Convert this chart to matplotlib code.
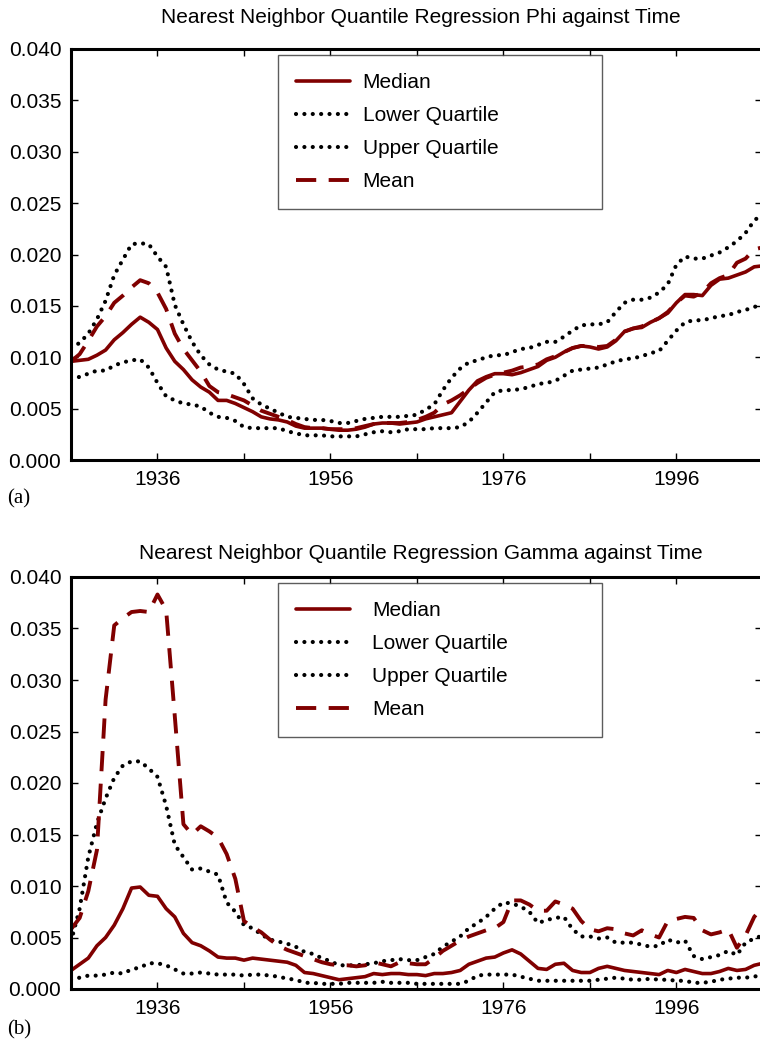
import numpy as np
import matplotlib
matplotlib.use("Agg")
import matplotlib.pyplot as plt
from matplotlib.ticker import FormatStrFormatter

plt.rcParams['font.family'] = ['Liberation Sans', 'DejaVu Sans']

years = np.arange(1926, 2007)

# panel (a): phi
phi_median = [
    0.0096, 0.0097, 0.0098, 0.0102, 0.0107, 0.0117, 0.0124, 0.0132, 0.0139, 0.0134,
    0.0127, 0.0109, 0.0096, 0.0088, 0.0078, 0.0071, 0.0066, 0.0058, 0.0058, 0.0055,
    0.0051, 0.0047, 0.0042, 0.0040, 0.0039, 0.0037, 0.0033, 0.0031, 0.0031, 0.0031,
    0.0030, 0.0029, 0.0029, 0.0030, 0.0032, 0.0035, 0.0036, 0.0036, 0.0035, 0.0036,
    0.0037, 0.0040, 0.0042, 0.0044, 0.0046, 0.0057, 0.0068, 0.0077, 0.0081, 0.0084,
    0.0084, 0.0083, 0.0085, 0.0088, 0.0091, 0.0097, 0.0100, 0.0105, 0.0109, 0.0111,
    0.0110, 0.0108, 0.0110, 0.0116, 0.0125, 0.0128, 0.0129, 0.0134, 0.0138, 0.0143,
    0.0153, 0.0161, 0.0161, 0.0160, 0.0170, 0.0176, 0.0177, 0.0180, 0.0183, 0.0188, 0.0189,
]
phi_lower = [
    0.0078, 0.0081, 0.0084, 0.0087, 0.0087, 0.0092, 0.0095, 0.0097, 0.0098, 0.0090,
    0.0075, 0.0062, 0.0058, 0.0055, 0.0054, 0.0052, 0.0046, 0.0042, 0.0041, 0.0038,
    0.0032, 0.0031, 0.0031, 0.0031, 0.0031, 0.0028, 0.0026, 0.0024, 0.0024, 0.0024,
    0.0023, 0.0023, 0.0023, 0.0023, 0.0025, 0.0027, 0.0028, 0.0027, 0.0028, 0.0030,
    0.0030, 0.0030, 0.0031, 0.0031, 0.0031, 0.0032, 0.0037, 0.0046, 0.0056, 0.0066,
    0.0068, 0.0068, 0.0069, 0.0071, 0.0074, 0.0075, 0.0077, 0.0082, 0.0087, 0.0088,
    0.0089, 0.0090, 0.0093, 0.0096, 0.0098, 0.0099, 0.0101, 0.0104, 0.0106, 0.0116,
    0.0126, 0.0134, 0.0136, 0.0136, 0.0138, 0.0140, 0.0141, 0.0144, 0.0146, 0.0149, 0.0151,
]
phi_upper = [
    0.0109, 0.0114, 0.0123, 0.0137, 0.0155, 0.0180, 0.0195, 0.0210, 0.0211, 0.0210,
    0.0198, 0.0188, 0.0151, 0.0132, 0.0115, 0.0102, 0.0093, 0.0088, 0.0086, 0.0084,
    0.0074, 0.0060, 0.0054, 0.0050, 0.0046, 0.0042, 0.0041, 0.0040, 0.0039, 0.0039,
    0.0038, 0.0036, 0.0036, 0.0038, 0.0040, 0.0041, 0.0042, 0.0042, 0.0042, 0.0043,
    0.0044, 0.0049, 0.0054, 0.0068, 0.0080, 0.0089, 0.0095, 0.0097, 0.0100, 0.0102,
    0.0102, 0.0105, 0.0108, 0.0109, 0.0112, 0.0115, 0.0115, 0.0120, 0.0126, 0.0131,
    0.0132, 0.0132, 0.0134, 0.0144, 0.0153, 0.0156, 0.0156, 0.0158, 0.0163, 0.0171,
    0.0190, 0.0198, 0.0196, 0.0196, 0.0199, 0.0202, 0.0207, 0.0213, 0.0221, 0.0233, 0.0240,
]
phi_mean = [
    0.0096, 0.0103, 0.0116, 0.0130, 0.0140, 0.0153, 0.0160, 0.0168, 0.0175, 0.0172,
    0.0163, 0.0147, 0.0123, 0.0108, 0.0097, 0.0086, 0.0072, 0.0066, 0.0064, 0.0061,
    0.0058, 0.0053, 0.0048, 0.0045, 0.0042, 0.0039, 0.0035, 0.0032, 0.0031, 0.0031,
    0.0030, 0.0030, 0.0030, 0.0031, 0.0033, 0.0035, 0.0036, 0.0036, 0.0036, 0.0037,
    0.0039, 0.0042, 0.0046, 0.0054, 0.0058, 0.0063, 0.0069, 0.0075, 0.0080, 0.0083,
    0.0085, 0.0087, 0.0090, 0.0091, 0.0093, 0.0098, 0.0101, 0.0105, 0.0109, 0.0111,
    0.0111, 0.0110, 0.0111, 0.0117, 0.0125, 0.0128, 0.0130, 0.0134, 0.0138, 0.0144,
    0.0153, 0.0160, 0.0159, 0.0163, 0.0172, 0.0177, 0.0180, 0.0192, 0.0196, 0.0205, 0.0207,
]

# panel (b): gamma
gamma_median = [
    0.0018, 0.0024, 0.0030, 0.0042, 0.0050, 0.0062, 0.0078, 0.0098, 0.0099, 0.0091,
    0.0090, 0.0078, 0.0070, 0.0054, 0.0045, 0.0042, 0.0037, 0.0031, 0.0030, 0.0030,
    0.0028, 0.0030, 0.0029, 0.0028, 0.0027, 0.0026, 0.0023, 0.0016, 0.0015, 0.0013,
    0.0011, 0.0009, 0.0010, 0.0011, 0.0012, 0.0015, 0.0014, 0.0015, 0.0015, 0.0014,
    0.0014, 0.0013, 0.0015, 0.0015, 0.0016, 0.0018, 0.0024, 0.0027, 0.0030, 0.0031,
    0.0035, 0.0038, 0.0034, 0.0027, 0.0020, 0.0019, 0.0024, 0.0025, 0.0018, 0.0016,
    0.0016, 0.0020, 0.0022, 0.0020, 0.0018, 0.0017, 0.0016, 0.0015, 0.0014, 0.0018,
    0.0016, 0.0019, 0.0017, 0.0015, 0.0015, 0.0017, 0.0020, 0.0018, 0.0019, 0.0023, 0.0025,
]
gamma_lower = [
    0.0009, 0.0011, 0.0013, 0.0013, 0.0014, 0.0016, 0.0015, 0.0019, 0.0021, 0.0025,
    0.0025, 0.0023, 0.0019, 0.0015, 0.0015, 0.0016, 0.0015, 0.0014, 0.0014, 0.0014,
    0.0013, 0.0014, 0.0014, 0.0013, 0.0012, 0.0010, 0.0009, 0.0006, 0.0006, 0.0005,
    0.0005, 0.0005, 0.0006, 0.0006, 0.0006, 0.0006, 0.0007, 0.0006, 0.0006, 0.0006,
    0.0005, 0.0005, 0.0005, 0.0005, 0.0005, 0.0005, 0.0008, 0.0013, 0.0014, 0.0014,
    0.0014, 0.0014, 0.0012, 0.0010, 0.0008, 0.0008, 0.0008, 0.0008, 0.0008, 0.0008,
    0.0008, 0.0009, 0.0010, 0.0011, 0.0010, 0.0009, 0.0009, 0.0010, 0.0009, 0.0009,
    0.0008, 0.0008, 0.0006, 0.0006, 0.0007, 0.0009, 0.0010, 0.0011, 0.0011, 0.0012, 0.0014,
]
gamma_upper = [
    0.0046, 0.0078, 0.0128, 0.0161, 0.0185, 0.0205, 0.0217, 0.0221, 0.0221, 0.0214,
    0.0206, 0.0178, 0.0140, 0.0128, 0.0116, 0.0117, 0.0114, 0.0111, 0.0084, 0.0075,
    0.0062, 0.0059, 0.0053, 0.0048, 0.0046, 0.0044, 0.0041, 0.0036, 0.0034, 0.0030,
    0.0027, 0.0023, 0.0023, 0.0023, 0.0024, 0.0025, 0.0027, 0.0028, 0.0029, 0.0028,
    0.0028, 0.0031, 0.0034, 0.0041, 0.0046, 0.0051, 0.0059, 0.0064, 0.0070, 0.0078,
    0.0084, 0.0083, 0.0080, 0.0075, 0.0064, 0.0067, 0.0069, 0.0070, 0.0058, 0.0051,
    0.0051, 0.0049, 0.0050, 0.0045, 0.0045, 0.0045, 0.0043, 0.0041, 0.0042, 0.0048,
    0.0045, 0.0047, 0.0032, 0.0029, 0.0031, 0.0033, 0.0037, 0.0033, 0.0045, 0.0049, 0.0052,
]
gamma_mean = [
    0.0058, 0.0069, 0.0095, 0.0135, 0.0281, 0.0353, 0.0360, 0.0366, 0.0367, 0.0366,
    0.0383, 0.0368, 0.0265, 0.0160, 0.0150, 0.0158, 0.0153, 0.0147, 0.0131, 0.0107,
    0.0066, 0.0060, 0.0055, 0.0048, 0.0042, 0.0038, 0.0035, 0.0032, 0.0029, 0.0026,
    0.0024, 0.0023, 0.0023, 0.0022, 0.0023, 0.0026, 0.0024, 0.0022, 0.0026, 0.0025,
    0.0024, 0.0024, 0.0030, 0.0037, 0.0042, 0.0047, 0.0051, 0.0054, 0.0057, 0.0059,
    0.0065, 0.0086, 0.0086, 0.0082, 0.0076, 0.0076, 0.0085, 0.0082, 0.0078, 0.0066,
    0.0058, 0.0056, 0.0059, 0.0058, 0.0054, 0.0052, 0.0057, 0.0053, 0.0050, 0.0066,
    0.0068, 0.0070, 0.0069, 0.0057, 0.0053, 0.0055, 0.0058, 0.0040, 0.0052, 0.0070, 0.0080,
]

titles = ["Nearest Neighbor Quantile Regression Phi against Time",
          "Nearest Neighbor Quantile Regression Gamma against Time"]
panel_tags = ["(a)", "(b)"]
labels = ["Median", "Lower Quartile", "Upper Quartile", "Mean"]
xticks = [1936, 1946, 1956, 1966, 1976, 1986, 1996]
xticklabels = ["1936", "", "1956", "", "1976", "", "1996"]
yticks = [0.0, 0.005, 0.010, 0.015, 0.020, 0.025, 0.030, 0.035, 0.040]

red = "#800000"
black = "#000000"


def draw_panel(ax, median, lower, upper, mean, textpad):
    ax.plot(years, median, color=red, lw=2.6, solid_capstyle="round", label=labels[0])
    ax.plot(years, lower, color=black, lw=3.0, linestyle=(0, (0.01, 2.0)),
            dash_capstyle="round", label=labels[1])
    ax.plot(years, upper, color=black, lw=3.0, linestyle=(0, (0.01, 2.0)),
            dash_capstyle="round", label=labels[2])
    ax.plot(years, mean, color=red, lw=2.8, linestyle=(0, (5.2, 3.2)), label=labels[3])

    ax.set_xlim(1926, 2005.9)
    ax.set_ylim(0, 0.040)
    ax.set_xticks(xticks)
    ax.set_xticklabels(xticklabels)
    ax.set_yticks(yticks)
    ax.yaxis.set_major_formatter(FormatStrFormatter("%.3f"))
    ax.tick_params(direction="in", length=5, width=1.0, top=True, right=True,
                   labelsize=15, pad=7)
    for sp in ax.spines.values():
        sp.set_linewidth(2.2)

    leg = ax.legend(loc="upper left", bbox_to_anchor=(0.300, 0.608, 0.468, 0.377),
                    mode="expand", borderaxespad=0, fontsize=15, frameon=True,
                    fancybox=False, handlelength=2.6, handletextpad=textpad,
                    labelspacing=0.68, borderpad=0.85)
    leg.get_frame().set_edgecolor("#333333")
    leg.get_frame().set_linewidth(1.0)


fig = plt.figure(figsize=(7.6, 10.43), dpi=100)
W, H = 760.0, 1043.0

ax1 = fig.add_axes([71 / W, 1 - 460 / H, 691 / W, 411 / H])
draw_panel(ax1, phi_median, phi_lower, phi_upper, phi_mean, 0.6)
ax2 = fig.add_axes([71 / W, 1 - 989 / H, 691 / W, 412 / H])
draw_panel(ax2, gamma_median, gamma_lower, gamma_upper, gamma_mean, 1.05)

fig.text(421 / W, 1 - 23 / H, titles[0], ha="center", va="baseline", fontsize=15)
fig.text(421 / W, 1 - 559 / H, titles[1], ha="center", va="baseline", fontsize=15)
fig.text(7 / W, 1 - 503 / H, panel_tags[0], ha="left", va="baseline", fontsize=15,
         family=["Liberation Serif", "DejaVu Serif"])
fig.text(7 / W, 1 - 1034 / H, panel_tags[1], ha="left", va="baseline", fontsize=15,
         family=["Liberation Serif", "DejaVu Serif"])

fig.savefig("out.png", dpi=100)
